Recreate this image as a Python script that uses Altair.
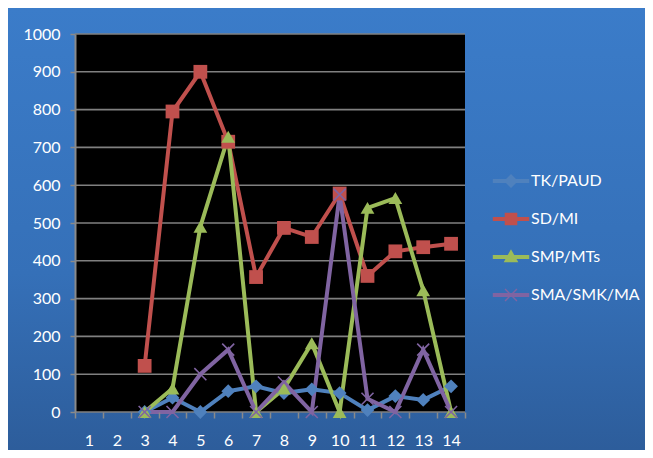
import altair as alt
import pandas as pd

categories = list(range(1, 15))
series_names = ["TK/PAUD", "SD/MI", "SMP/MTs", "SMA/SMK/MA"]
series_colors = ["#4f81bd", "#c0504d", "#9bbb59", "#8064a2"]

# values for categories 3..14 (1 and 2 are empty)
present_categories = list(range(3, 15))
tk_paud = [0, 38, 0, 55, 68, 50, 60, 50, 5, 42, 32, 68]
sd_mi = [122, 795, 900, 715, 357, 487, 463, 578, 360, 425, 436, 445]
smp_mts = [0, 62, 490, 728, 0, 62, 182, 0, 540, 566, 322, 0]
sma_smk_ma = [0, 0, 100, 165, 0, 78, 0, 575, 35, 0, 165, 0]
y_ticks = list(range(0, 1001, 100))

rows = []
for name, vals in zip(series_names, [tk_paud, sd_mi, smp_mts, sma_smk_ma]):
    for c, v in zip(present_categories, vals):
        rows.append({"Kategori": c, "Jumlah": v, "Jenjang": name})
df = pd.DataFrame(rows)
grid_df = pd.DataFrame({"g": y_ticks})

W, H = 390, 378
PL, PT, PR, PB = 67, 26, 180, 38

color_scale = alt.Scale(domain=series_names, range=series_colors)

BAR = "M-2.6,-0.28H2.6V0.28H-2.6Z"
X_SHAPE = ("M-0.78,-0.92L0.92,0.78L0.78,0.92L-0.92,-0.78Z"
           "M-0.92,0.78L0.78,-0.92L0.92,-0.78L-0.78,0.92Z")
legend_paths = [
    BAR + "M0,-1L1,0L0,1L-1,0Z",
    BAR + "M-0.9,-0.9H0.9V0.9H-0.9Z",
    BAR + "M0,-1.1L1.05,0.75H-1.05Z",
    BAR + X_SHAPE,
]

legend = alt.Legend(
    title=None,
    orient="none",
    legendX=428,
    legendY=139,
    padding=0,
    labelColor="white",
    labelFont="Lato",
    labelFontSize=16,
    labelOffset=12,
    labelLimit=200,
    rowPadding=22,
    symbolSize=196,
    symbolStrokeWidth=0,
    symbolOpacity=1,
    zindex=1,
)

x_enc = alt.X(
    "Kategori:O",
    scale=alt.Scale(domain=categories, paddingInner=0, paddingOuter=0),
    axis=alt.Axis(
        title=None,
        labelAngle=0,
        labelColor="white",
        labelFont="Lato",
        labelFontSize=16,
        labelPadding=14,
        domain=False,
        ticks=True,
        tickBand="extent",
        tickColor="#8a8a8a",
        tickWidth=1.5,
        tickSize=6,
        grid=False,
        zindex=1,
    ),
)
y_scale = alt.Scale(domain=[0, 1000], nice=False)
y_axis = alt.Axis(
    title=None,
    values=y_ticks,
    format="d",
    labelColor="white",
    labelFont="Lato",
    labelFontSize=16,
    labelPadding=10,
    domain=True,
    domainColor="#8a8a8a",
    domainWidth=2,
    tickColor="#8a8a8a",
    tickWidth=1.5,
    tickSize=5,
    grid=False,
    zindex=1,
)
y_enc = alt.Y("Jumlah:Q", scale=y_scale, axis=y_axis)
color_nolegend = alt.Color("Jenjang:N", scale=color_scale, legend=None)

bg = alt.Chart(grid_df).mark_rect(
    color=alt.Gradient(
        gradient="linear",
        stops=[
            alt.GradientStop(color="#3b7cc9", offset=0),
            alt.GradientStop(color="#3570b8", offset=0.6),
            alt.GradientStop(color="#2d5d9b", offset=1),
        ],
        x1=0, x2=0, y1=0, y2=1,
    )
).encode(
    x=alt.value(-PL), x2=alt.value(W + PR), y=alt.value(-PT), y2=alt.value(H + PB)
).transform_filter("datum.g == 0")

legend_layer = alt.Chart(df).mark_point(filled=True, opacity=1, strokeWidth=0).encode(
    x=x_enc,
    y=y_enc,
    color=alt.Color("Jenjang:N", scale=color_scale, legend=legend),
    shape=alt.Shape("Jenjang:N",
                    scale=alt.Scale(domain=series_names, range=legend_paths),
                    legend=legend),
).transform_filter("false")

plot_bg = alt.Chart(grid_df).mark_rect(color="black").encode(
    x=alt.value(0), x2=alt.value(W), y=alt.value(0), y2=alt.value(H)
).transform_filter("datum.g == 0")

grid = alt.Chart(grid_df).mark_rule(color="#808080", strokeWidth=1.6).encode(
    y=alt.Y("g:Q", scale=y_scale, axis=y_axis)
)

lines = alt.Chart(df).mark_line(strokeWidth=4).encode(
    x=x_enc, y=y_enc, color=color_nolegend, detail="Jenjang:N",
)

marker_layers = []
for name, shp in zip(series_names[:3], ["diamond", "square", "triangle-up"]):
    marker_layers.append(
        alt.Chart(df).mark_point(filled=True, opacity=1, size=190, shape=shp)
        .encode(x=x_enc, y=y_enc, color=color_nolegend)
        .transform_filter(alt.datum.Jenjang == name)
    )
marker_layers.append(
    alt.Chart(df).mark_point(
        filled=False, opacity=1, size=200, strokeWidth=1.6,
        shape="M-0.85,-0.85L0.85,0.85M-0.85,0.85L0.85,-0.85",
    ).encode(x=x_enc, y=y_enc, color=color_nolegend)
    .transform_filter(alt.datum.Jenjang == series_names[3])
)

chart = alt.layer(bg, legend_layer, plot_bg, grid, lines, *marker_layers).properties(
    width=W,
    height=H,
    autosize=alt.AutoSizeParams(type="none"),
    padding={"left": PL, "top": PT, "right": PR, "bottom": PB},
).configure(
    background="#3470b8"
).configure_view(stroke=None)

chart.save("out.html", embed_options={"renderer": "svg", "actions": False})
